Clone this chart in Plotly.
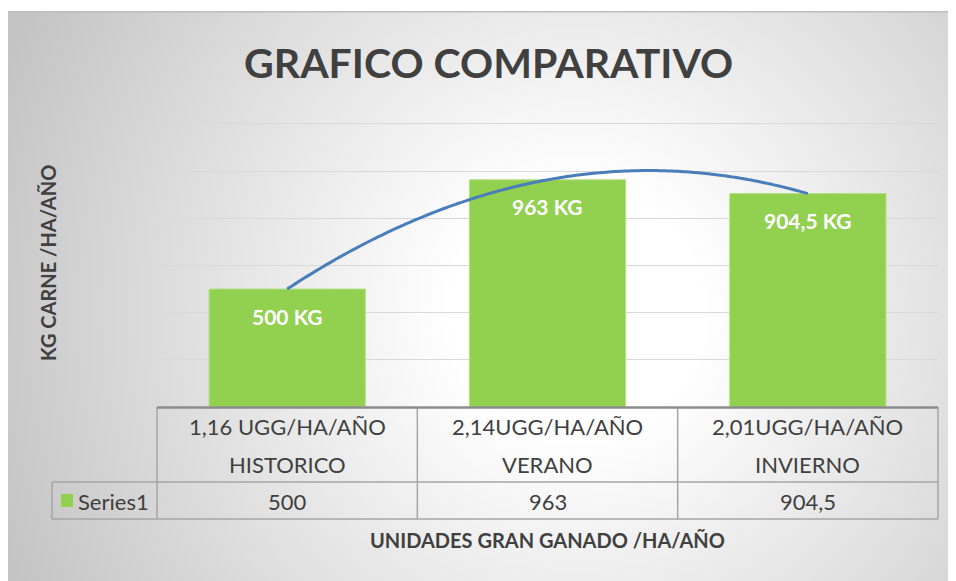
import base64
import numpy as np
import plotly.graph_objects as go

# ---- data ----
categories = ["HISTORICO", "VERANO", "INVIERNO"]
units = ["1,16 UGG/HA/AÑO", "2,14UGG/HA/AÑO", "2,01UGG/HA/AÑO"]
values = [500, 963, 904.5]
series_name = "Series1"
bar_labels = ["500 KG", "963 KG", "904,5 KG"]
title_text = "GRAFICO COMPARATIVO"
y_title = "KG CARNE /HA/AÑO"
x_title = "UNIDADES GRAN GANADO /HA/AÑO"

# ---- geometry (page pixels; figure is offset by the 8px body margin) ----
OFF = 8
PAGE_W, PAGE_H = 956, 581
W, H = PAGE_W - OFF, PAGE_H - OFF
PL, PR, PT, PB = 157, 938, 122, 407          # plot area in page pixels
L, R, T, B = PL - OFF, PAGE_W - PR, PT - OFF, PAGE_H - PB
PW, PH = PR - PL, PB - PT
YMAX = 1208


def py(p):  # page pixel y -> paper
    return (PB - p) / PH


def px(p):  # page pixel x -> paper
    return (p - PL) / PW


FONT = "Lato"
DARK = "#404040"
GREEN = "#92d050"
GRID = "#d9d9d9"
TLINE = "#a6a6a6"

xs = list(range(len(values)))

# background radial gradient (chart area)
svg = """<svg xmlns='http://www.w3.org/2000/svg' width='950' height='570' viewBox='0 0 950 570' preserveAspectRatio='none'>
<defs><radialGradient id='g' gradientUnits='userSpaceOnUse' cx='570' cy='300' r='620'>
<stop offset='0' stop-color='#ffffff'/><stop offset='0.2' stop-color='#ffffff'/>
<stop offset='1' stop-color='#c4c4c4'/></radialGradient></defs>
<rect x='0' y='0' width='950' height='570' fill='url(#g)'/>
<line x1='0' y1='0.75' x2='950' y2='0.75' stroke='#bdbdbd' stroke-width='1.5'/>
<line x1='0.5' y1='0' x2='0.5' y2='570' stroke='#d0d0d0' stroke-width='1'/>
</svg>"""
bg_uri = "data:image/svg+xml;base64," + base64.b64encode(svg.encode()).decode()

fig = go.Figure()
fig.add_trace(go.Bar(
    x=xs, y=values, name=series_name,
    marker=dict(color=GREEN, line=dict(color="#b3df85", width=1)),
    hoverinfo="skip",
))

# polynomial (order 2) trendline computed from the data
coef = np.polyfit(xs, values, 2)
tx = np.linspace(0, len(values) - 1, 120)
fig.add_trace(go.Scatter(
    x=tx, y=np.polyval(coef, tx), mode="lines",
    line=dict(color="#4a7ebb", width=3, shape="spline"),
    hoverinfo="skip",
))

annotations = []
# bar data labels
for i, (v, lab) in enumerate(zip(values, bar_labels)):
    annotations.append(dict(
        x=i, y=v, xref="x", yref="y", text=f"<b>{lab}</b>", showarrow=False,
        yshift=-27, yanchor="middle",
        font=dict(family=FONT, size=21, color="white"),
    ))

# data table text
TS = 22
for i in xs:
    annotations.append(dict(x=i, y=py(426), xref="x", yref="paper", text=units[i],
                            showarrow=False, yanchor="middle",
                            font=dict(family=FONT, size=TS, color=DARK)))
    annotations.append(dict(x=i, y=py(464), xref="x", yref="paper", text=categories[i],
                            showarrow=False, yanchor="middle",
                            font=dict(family=FONT, size=TS, color=DARK)))
    annotations.append(dict(x=i, y=py(501), xref="x", yref="paper",
                            text=f"{values[i]:g}".replace(".", ","),
                            showarrow=False, yanchor="middle",
                            font=dict(family=FONT, size=TS, color=DARK)))
annotations.append(dict(x=px(76), y=py(501), xref="paper", yref="paper", text=series_name,
                        showarrow=False, xanchor="left", yanchor="middle",
                        font=dict(family=FONT, size=TS, color=DARK)))

# titles
annotations.append(dict(x=px(488), y=py(62), xref="paper", yref="paper",
                        text=f"<b>{title_text}</b>", showarrow=False,
                        xanchor="center", yanchor="middle",
                        font=dict(family=FONT, size=41, color=DARK)))
annotations.append(dict(x=px(48), y=py(263), xref="paper", yref="paper",
                        text=f"<b>{y_title}</b>", showarrow=False, textangle=-90,
                        xanchor="center", yanchor="middle",
                        font=dict(family=FONT, size=20, color=DARK)))
annotations.append(dict(x=px(547), y=py(540), xref="paper", yref="paper",
                        text=f"<b>{x_title}</b>", showarrow=False,
                        xanchor="center", yanchor="middle",
                        font=dict(family=FONT, size=20, color=DARK)))

# table lines
shapes = []


def hline(y, x0, x1, color=TLINE, w=1.5):
    shapes.append(dict(type="line", xref="paper", yref="paper", x0=px(x0), x1=px(x1),
                       y0=py(y), y1=py(y), line=dict(color=color, width=w)))


def vline(x, y0, y1, color=TLINE, w=1.5):
    shapes.append(dict(type="line", xref="paper", yref="paper", x0=px(x), x1=px(x),
                       y0=py(y0), y1=py(y1), line=dict(color=color, width=w)))


hline(482, 52, PR)
hline(519, 52, PR)
for k in range(len(values) + 1):
    vline(PL + k * PW / len(values), 407, 519)
vline(52, 482, 519)
hline(407.5, PL, PR, color="#8c8c8c", w=2.5)
# legend key
shapes.append(dict(type="rect", xref="paper", yref="paper", x0=px(61), x1=px(73),
                   y0=py(507), y1=py(494), fillcolor=GREEN, line=dict(width=0)))

fig.update_layout(
    width=W, height=H,
    margin=dict(l=L, r=R, t=T, b=B),
    paper_bgcolor="white", plot_bgcolor="rgba(0,0,0,0)",
    showlegend=False, bargap=0.4,
    xaxis=dict(range=[-0.5, len(values) - 0.5], showticklabels=False, showgrid=False,
               zeroline=False, ticks=""),
    yaxis=dict(range=[0, YMAX], tick0=0, dtick=200, showticklabels=False, showgrid=True,
               gridcolor=GRID, gridwidth=1, zeroline=False, ticks=""),
    annotations=annotations, shapes=shapes,
    images=[dict(source=bg_uri, xref="paper", yref="paper", x=px(6), y=py(11),
                 sizex=(PAGE_W - 6) / PW, sizey=(PAGE_H - 11) / PH, sizing="stretch",
                 xanchor="left", yanchor="top", layer="below")],
)

fig.write_html("out.html")
